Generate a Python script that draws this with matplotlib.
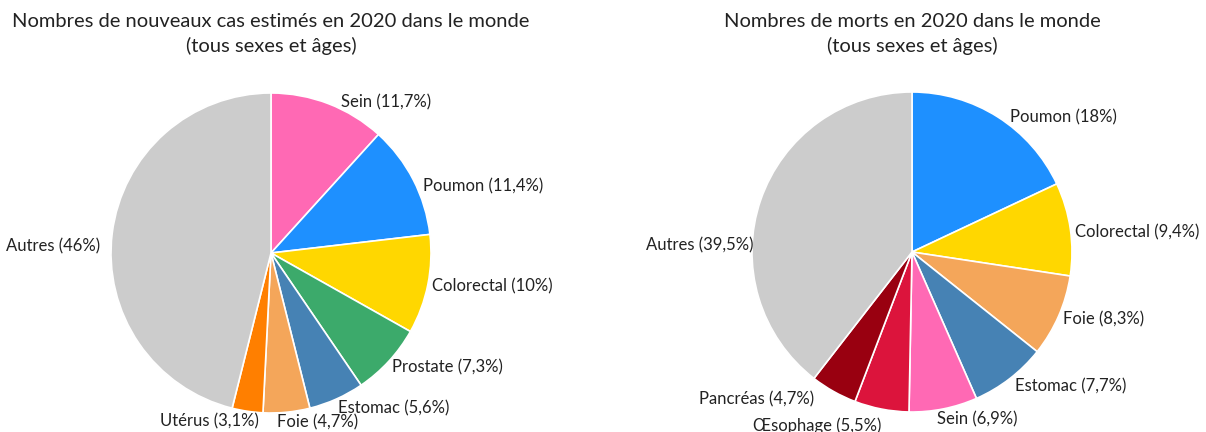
import matplotlib.pyplot as plt

plt.rcParams['font.family'] = ['Lato', 'DejaVu Sans']

# nouveaux cas
cas_labels = ["Sein", "Poumon", "Colorectal", "Prostate", "Estomac", "Foie", "Utérus", "Autres"]
cas_pct = [11.7, 11.4, 10, 7.3, 5.6, 4.7, 3.1, 46]
cas_colors = ["#FF69B4", "#1E90FF", "#FFD700", "#3CAA6B", "#4682B4", "#F4A65A", "#FF7F00", "#CCCCCC"]

# morts
morts_labels = ["Poumon", "Colorectal", "Foie", "Estomac", "Sein", "Œsophage", "Pancréas", "Autres"]
morts_pct = [18, 9.4, 8.3, 7.7, 6.9, 5.5, 4.7, 39.5]
morts_colors = ["#1E90FF", "#FFD700", "#F4A65A", "#4682B4", "#FF69B4", "#DC143C", "#990010", "#CCCCCC"]

# label nudges in pixels (dx right, dy down) -- "best fit" placement of the original
cas_nudge = [(9, 8), (1, 11), (-5, 0), (-4, 0), (-2, 1), (-11, 1), (13, 1), (-3, 14)]
morts_nudge = [(7, 9), (-5, 5), (-4, 0), (-1, 0), (-8, 1), (2, 7), (-15, 0), (2, 48)]

R = 160


def fmt(v):
    return ("%g" % v).replace(".", ",")


def draw(ax, labels, pct, colors, nudge):
    texts = [l + " (" + fmt(p) + "%)" for l, p in zip(labels, pct)]
    wedges, txts = ax.pie(pct, labels=texts, colors=colors, startangle=90, counterclock=False,
                          labeldistance=1.06, radius=1,
                          wedgeprops=dict(edgecolor="white", linewidth=1.2),
                          textprops=dict(fontsize=12, color="#222222"))
    for t, (dx, dy) in zip(txts, nudge):
        x, y = t.get_position()
        t.set_position((x + dx / R, y - dy / R))
    ax.set_xlim(-1, 1)
    ax.set_ylim(-1, 1)
    ax.set_aspect("equal")


fig = plt.figure(figsize=(12.06, 4.32), dpi=100)
W, H = 1206, 432
ax1 = fig.add_axes([(271 - R) / W, (H - 253 - R) / H, 2 * R / W, 2 * R / H])
ax2 = fig.add_axes([(912 - R) / W, (H - 252 - R) / H, 2 * R / W, 2 * R / H])
draw(ax1, cas_labels, cas_pct, cas_colors, cas_nudge)
draw(ax2, morts_labels, morts_pct, morts_colors, morts_nudge)

fig.text(271 / W, 1 - 34 / H, "Nombres de nouveaux cas estimés en 2020 dans le monde\n(tous sexes et âges)",
         ha="center", va="center", fontsize=14.5, color="#222222", linespacing=1.45)
fig.text(912 / W, 1 - 34 / H, "Nombres de morts en 2020 dans le monde\n(tous sexes et âges)",
         ha="center", va="center", fontsize=14.5, color="#222222", linespacing=1.45)

fig.savefig("out.png", dpi=100)
